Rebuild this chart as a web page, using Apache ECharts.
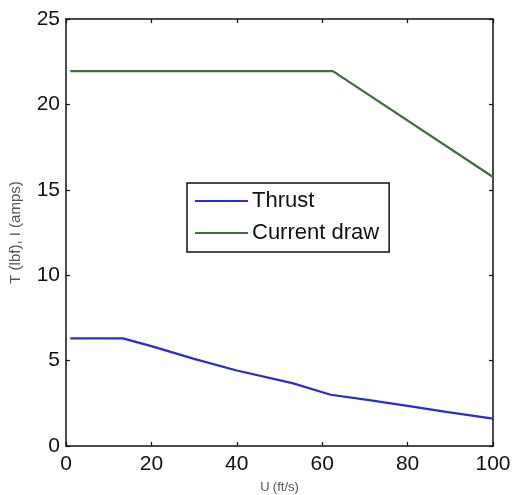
<!DOCTYPE html>
<html>
<head>
<meta charset="utf-8">
<script src="https://cdn.jsdelivr.net/npm/echarts@6/dist/echarts.min.js"></script>
<style>
  html, body { margin: 0; padding: 0; background: #fff; }
  #chart { width: 516px; height: 495px; }
</style>
</head>
<body>
<div id="chart"></div>
<script>
// Airspeed U (ft/s) and the corresponding thrust / current values
const thrustU = [1, 13.3, 20, 30, 40, 53, 62, 71, 80, 89, 100];
const thrustT = [6.3, 6.3, 5.85, 5.1, 4.42, 3.68, 3.0, 2.69, 2.35, 2.0, 1.6];

const currentU = [1, 62.5, 100];
const currentI = [21.95, 21.95, 15.75];

const xTicks = [0, 20, 40, 60, 80, 100];
const yTicks = [0, 5, 10, 15, 20, 25];

const toPairs = (xs, ys) => xs.map((x, i) => [x, ys[i]]);

const FONT = 'Liberation Sans, Arial, sans-serif';
const axisFont = { fontFamily: FONT, color: '#111' };
const frameLine = { show: true, onZero: false, lineStyle: { color: '#111', width: 1.5 } };
const innerTick = { inside: true, length: 4, lineStyle: { color: '#111', width: 1.2 } };

const chart = echarts.init(document.getElementById('chart'));
chart.setOption({
  backgroundColor: '#fff',
  animation: false,
  grid: { left: 66, top: 19, right: 23, bottom: 49, containLabel: false, outerBoundsMode: 'none' },
  legend: {
    left: 187, top: 183,
    orient: 'vertical',
    itemWidth: 53, itemHeight: 2, itemGap: 10,
    padding: [7, 10, 8, 8],
    borderColor: '#111', borderWidth: 1.5,
    backgroundColor: '#fff',
    icon: 'rect',
    textStyle: { fontFamily: FONT, fontSize: 22, color: '#111', padding: [0, 0, 0, -1] },
    data: ['Thrust', 'Current draw']
  },
  xAxis: [{
    type: 'value', min: xTicks[0], max: xTicks[xTicks.length - 1], interval: 20,
    name: '{u|U} {s|(ft/s)}', nameLocation: 'middle', nameGap: 35,
    nameTextStyle: { rich: { u: { fontSize: 13, color: '#555', fontFamily: FONT }, s: { fontSize: 13, color: '#555', fontFamily: FONT } } },
    axisLine: frameLine,
    axisTick: innerTick,
    axisLabel: { ...axisFont, fontSize: 21, margin: 8 },
    splitLine: { show: false }
  }, {
    type: 'value', position: 'top', min: xTicks[0], max: xTicks[xTicks.length - 1], interval: 20,
    axisLine: frameLine,
    axisTick: innerTick,
    axisLabel: { show: false },
    splitLine: { show: false }
  }],
  yAxis: [{
    type: 'value', min: yTicks[0], max: yTicks[yTicks.length - 1], interval: 5,
    name: 'T (lbf), I (amps)', nameLocation: 'middle', nameGap: 43,
    nameTextStyle: { fontSize: 15, color: '#555', fontFamily: FONT },
    axisLine: frameLine,
    axisTick: innerTick,
    axisLabel: { ...axisFont, fontSize: 21, margin: 6 },
    splitLine: { show: false }
  }, {
    type: 'value', position: 'right', min: yTicks[0], max: yTicks[yTicks.length - 1], interval: 5,
    axisLine: frameLine,
    axisTick: innerTick,
    axisLabel: { show: false },
    splitLine: { show: false }
  }],
  series: [{
    name: 'Thrust', type: 'line', showSymbol: false, symbol: 'none',
    data: toPairs(thrustU, thrustT),
    lineStyle: { color: '#2a2ad8', width: 2.2 },
    itemStyle: { color: '#2a2ad8' }
  }, {
    name: 'Current draw', type: 'line', showSymbol: false, symbol: 'none',
    data: toPairs(currentU, currentI),
    lineStyle: { color: '#3f6e3f', width: 2.2 },
    itemStyle: { color: '#3f6e3f' }
  }]
});
</script>
</body>
</html>
